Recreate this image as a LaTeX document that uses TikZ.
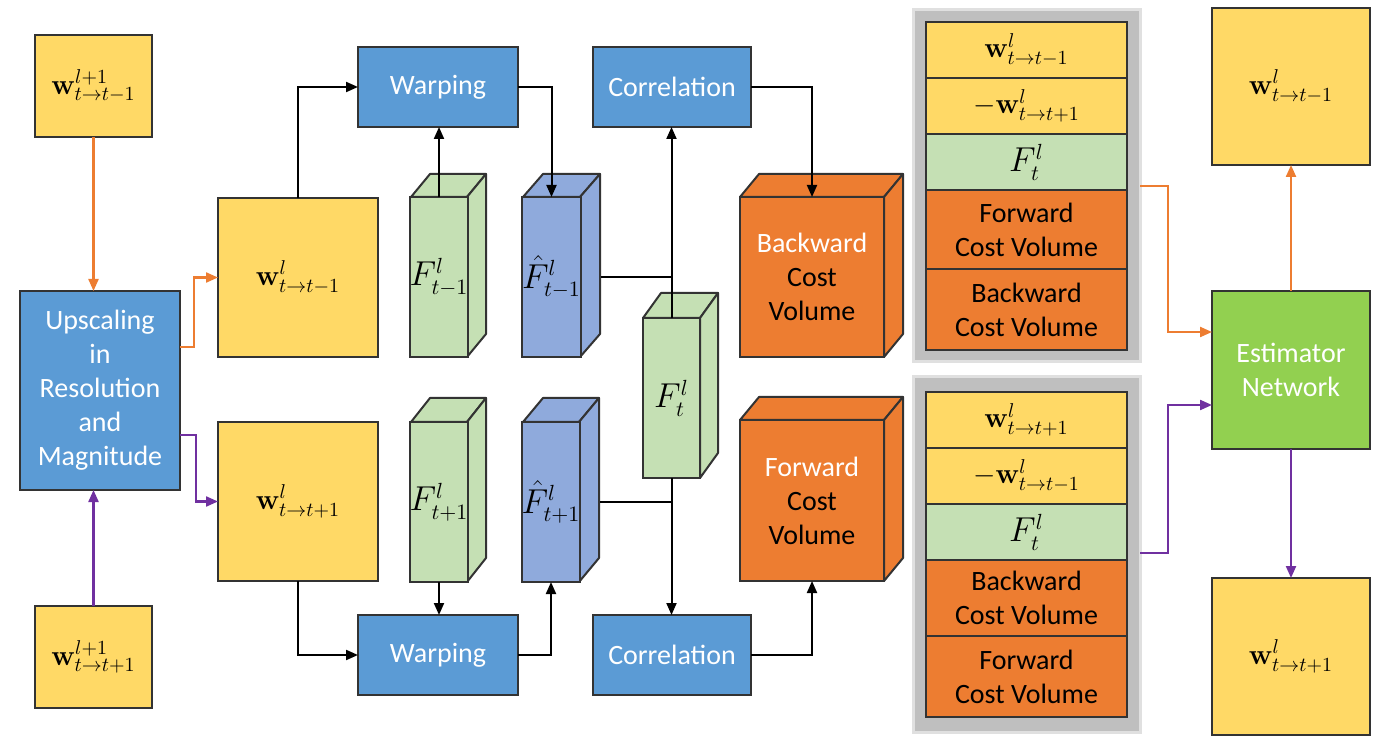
\documentclass[tikz,border=0pt]{standalone}
\usepackage[no-math]{fontspec}
\setmainfont{Carlito}
\usetikzlibrary{arrows.meta}
\definecolor{cyel}{HTML}{FFD966}
\definecolor{cblu}{HTML}{5B9BD5}
\definecolor{cgrn}{HTML}{C5E0B4}
\definecolor{ccub}{HTML}{8FAADC}
\definecolor{corg}{HTML}{ED7D31}
\definecolor{cest}{HTML}{92D050}
\definecolor{cpur}{HTML}{7030A0}
\definecolor{cpan}{HTML}{BFBFBF}
\tikzset{
  bx/.style={draw=black!80, line width=1pt, inner sep=0pt, outer sep=0pt, align=center, font=\fontsize{14}{17}\selectfont},
  wht/.style={text=white},
  conn/.style={line width=1pt, draw=black},
  barr/.style={conn, -{Triangle[length=6pt,width=5pt]}},
  oarr/.style={line width=1.1pt, draw=corg, -{Triangle[length=6pt,width=5pt]}},
  parr/.style={line width=1.1pt, draw=cpur, -{Triangle[length=6pt,width=5pt]}},
  facestyle/.style={draw=black!80, line width=1pt, line join=round},
}
\newcommand\bx[7][]{\node[bx,#1,minimum width={(#5-#3)*0.5pt},minimum height={(#6-#4)*0.5pt}] (#2) at ({(#3+#5)/2},{(#4+#6)/2}) {#7};}
% name, x0, y0, x1, y1, dx, dy, fill, label
\newcommand\cb[9]{%
  \filldraw[facestyle, fill=#8] (#2,#3) -- ++(#6,#7) -- ++({#4-#2},0) -- (#4,#3) -- cycle;
  \filldraw[facestyle, fill=#8] (#4,#3) -- ++(#6,#7) -- ++(0,{#5-#3}) -- (#4,#5) -- cycle;
  \bx[fill=#8]{#1}{#2}{#3}{#4}{#5}{#9}}
\newcommand\fbig{\fontsize{16}{19}\selectfont}
\begin{document}
\begin{tikzpicture}[x=0.5pt,y=-0.5pt]
\useasboundingbox (0,0) rectangle (1381,737);
% left column
\bx[fill=cyel]{wa}{35}{35}{152}{137}{$\mathbf{w}^{l+1}_{t\to t-1}$}
\bx[fill=cyel]{wb}{35}{606}{152}{708}{$\mathbf{w}^{l+1}_{t\to t+1}$}
\bx[fill=cblu,wht]{up}{20}{291}{180}{490}{Upscaling\\in\\Resolution\\and\\Magnitude}
% flows
\bx[fill=cyel]{ya}{218}{198}{378}{357}{$\mathbf{w}^{l}_{t\to t-1}$}
\bx[fill=cyel]{yb}{218}{422}{378}{581}{$\mathbf{w}^{l}_{t\to t+1}$}
\bx[fill=cblu,wht]{warpa}{358}{47}{518}{127}{Warping}
\bx[fill=cblu,wht]{corra}{593}{47}{751}{127}{Correlation}
\bx[fill=cblu,wht]{warpb}{358}{615}{518}{695}{Warping}
\bx[fill=cblu,wht]{corrb}{593}{615}{751}{695}{Correlation}
% cubes
\cb{fa}{411}{197}{467}{357}{19}{-23}{cgrn}{\fbig$F^l_{t-1}$}
\cb{fha}{523}{197}{580}{357}{20}{-23}{ccub}{\fbig$\hat{F}^l_{t-1}$}
\cb{fb}{411}{422}{467}{582}{19}{-24}{cgrn}{\fbig$F^l_{t+1}$}
\cb{fhb}{523}{422}{579}{582}{20}{-24}{ccub}{\fbig$\hat{F}^l_{t+1}$}
\cb{ft}{643}{318}{700}{478}{18}{-25}{cgrn}{\fbig$F^l_{t}$}
\cb{bcv}{740}{197}{884}{357}{19}{-23}{corg}{\color{white}Backward\\Cost\\Volume}
\cb{fcv}{740}{420}{884}{581}{19}{-23}{corg}{\color{white}Forward\\Cost\\Volume}
% panels
\bx[fill=cpan,draw=black!12,line width=1.5pt]{pana}{913}{10}{1140}{362}{}
\bx[fill=cyel]{pa1}{926}{22}{1127}{78}{$\mathbf{w}^{l}_{t\to t-1}$}
\bx[fill=cyel]{pa2}{926}{78}{1127}{134}{$-\mathbf{w}^{l}_{t\to t+1}$}
\bx[fill=cgrn]{pa3}{926}{134}{1127}{190}{\fbig$F^l_{t}$}
\bx[fill=corg]{pa4}{926}{190}{1127}{269}{Forward\\Cost Volume}
\bx[fill=corg]{pa5}{926}{269}{1127}{350}{Backward\\Cost Volume}
\bx[fill=cpan,draw=black!12,line width=1.5pt]{panb}{913}{377}{1140}{732}{}
\bx[fill=cyel]{pb1}{926}{392}{1127}{448}{$\mathbf{w}^{l}_{t\to t+1}$}
\bx[fill=cyel]{pb2}{926}{448}{1127}{504}{$-\mathbf{w}^{l}_{t\to t-1}$}
\bx[fill=cgrn]{pb3}{926}{504}{1127}{560}{\fbig$F^l_{t}$}
\bx[fill=corg]{pb4}{926}{560}{1127}{636}{Backward\\Cost Volume}
\bx[fill=corg]{pb5}{926}{636}{1127}{717}{Forward\\Cost Volume}
% right column
\bx[fill=cest,wht]{est}{1212}{291}{1370}{449}{Estimator\\Network}
\bx[fill=cyel]{wra}{1212}{8}{1370}{165}{$\mathbf{w}^{l}_{t\to t-1}$}
\bx[fill=cyel]{wrb}{1212}{578}{1370}{735}{$\mathbf{w}^{l}_{t\to t+1}$}
% connectors
\draw[oarr] (wa.south) -- (wa.south |- up.north);
\draw[parr] (wb.north) -- (wb.north |- up.south);
\draw[oarr] (up.east |- 0,347) -- (194,347) |- (ya.west);
\draw[parr] (up.east |- 0,435) -- (196,435) |- (yb.west);
\draw[barr] (ya.north) |- (warpa.west);
\draw[barr] (warpa.east) -| (fha.north);
\draw[barr] (fa.north) -- (fa.north |- warpa.south);
\draw[conn] ([xshift=10pt]fha.east) -- (ft.north |- fha.east);
\draw[barr] (ft.north) -- (ft.north |- corra.south);
\draw[barr] (ft.south) -- (ft.south |- corrb.north);
\draw[conn] ([xshift=10pt]fhb.east) -- (ft.south |- fhb.east);
\draw[barr] (corra.east) -| (bcv.north);
\draw[barr] (corrb.east) -| (fcv.south);
\draw[barr] (yb.south) |- (warpb.west);
\draw[barr] (fb.south) -- (fb.south |- warpb.north);
\draw[barr] (warpb.east) -| (fhb.south);
\draw[oarr] (pana.east |- 0,186) -- (1168,186) |- (est.west |- 0,332);
\draw[parr] (panb.east |- 0,553) -- (1168,553) |- (est.west |- 0,405);
\draw[oarr] (est.north) -- (wra.south);
\draw[parr] (est.south) -- (wrb.north);
\end{tikzpicture}
\end{document}
